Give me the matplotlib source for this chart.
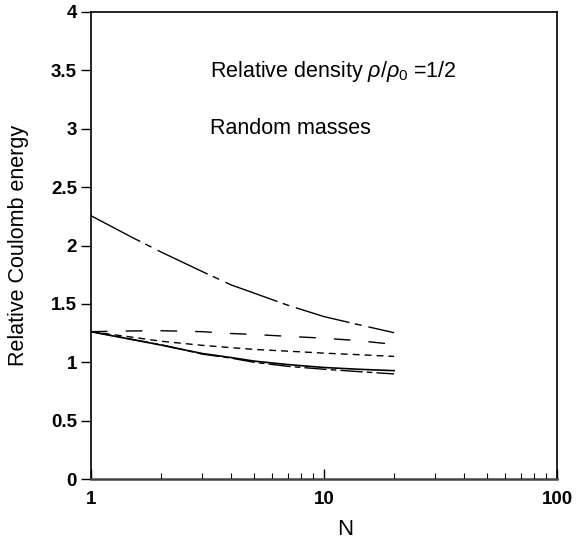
import matplotlib
matplotlib.use("Agg")
import matplotlib.pyplot as plt
from matplotlib.ticker import FixedLocator, LogLocator, NullFormatter

plt.rcParams['font.family'] = ['Liberation Sans', 'DejaVu Sans']
plt.rcParams['mathtext.fontset'] = 'custom'
plt.rcParams['mathtext.rm'] = 'Liberation Sans'
plt.rcParams['mathtext.it'] = 'Liberation Sans:italic'
plt.rcParams['lines.scale_dashes'] = False

# Data
N = [1, 1.5, 2, 3, 4, 5, 7, 10, 14, 20]
curve_dashdot_upper = [2.255, 2.07, 1.944, 1.777, 1.662, 1.593, 1.488, 1.391, 1.323, 1.253]
curve_longdash = [1.262, 1.268, 1.27, 1.262, 1.246, 1.238, 1.222, 1.206, 1.185, 1.153]
curve_shortdash = [1.262, 1.215, 1.18, 1.145, 1.125, 1.11, 1.095, 1.078, 1.065, 1.05]
curve_solid = [1.262, 1.195, 1.147, 1.075, 1.04, 1.01, 0.98, 0.955, 0.94, 0.928]
curve_dashdot_lower = [1.262, 1.195, 1.15, 1.07, 1.035, 1.0, 0.965, 0.94, 0.92, 0.9]

y_ticks = [0, 0.5, 1, 1.5, 2, 2.5, 3, 3.5, 4]
y_tick_labels = ['0', '0.5', '1', '1.5', '2', '2.5', '3', '3.5', '4']
x_ticks = [1, 10, 100]
x_tick_labels = ['1', '10', '100']

fig = plt.figure(figsize=(5.81, 5.46), dpi=100)
ax = fig.add_axes([91/581, 1-479/546, (557-91)/581, (479-12)/546])

lw = 1.0
ax.plot(N, curve_dashdot_upper, color='black', lw=lw, dashes=[40, 4, 5, 5])
ax.plot(N, curve_longdash, color='black', lw=lw, dashes=[12, 13])
ax.plot(N, curve_shortdash, color='black', lw=lw, dashes=[5, 3.6])
ax.plot(N, curve_solid, color='black', lw=1.2, linestyle='-')
ax.plot(N, curve_dashdot_lower, color='black', lw=lw, dashes=[16, 3, 4, 3])

ax.set_xscale('log')
ax.set_xlim(1, 100)
ax.set_ylim(0, 4)

ax.xaxis.set_major_locator(FixedLocator(x_ticks))
ax.set_xticklabels(x_tick_labels)
ax.xaxis.set_minor_locator(LogLocator(base=10, subs=range(2, 10)))
ax.xaxis.set_minor_formatter(NullFormatter())
ax.set_yticks(y_ticks)
ax.set_yticklabels(y_tick_labels)

ax.tick_params(axis='x', which='major', direction='in', length=7, width=1.0,
               labelsize=13.5, pad=9, top=False)
ax.tick_params(axis='x', which='minor', direction='in', length=4, width=0.8, top=False)
ax.tick_params(axis='y', which='major', direction='out', length=7, width=1.0,
               labelsize=13.5, pad=3, right=False)
for lab in ax.get_xticklabels() + ax.get_yticklabels():
    lab.set_fontweight('bold')

for s in ax.spines.values():
    s.set_linewidth(1.2)
    s.set_color('black')
ax.spines['bottom'].set_linewidth(1.8)
ax.spines['bottom'].set_color('#444444')

ax.set_xlabel('N', fontsize=16)
ax.xaxis.set_label_coords(0.545, -0.085)
ax.set_ylabel('Relative Coulomb energy', fontsize=15.5)
ax.yaxis.set_label_coords(-0.133, 0.5)

ax.text((210-91)/466, (479-71)/467, r'Relative density $\rho/\rho_0$ =1/2',
        transform=ax.transAxes, fontsize=15.5, va='center', ha='left')
ax.text((210-91)/466, (479-129)/467, 'Random masses',
        transform=ax.transAxes, fontsize=15.5, va='center', ha='left')

fig.savefig('out.png', dpi=100)
